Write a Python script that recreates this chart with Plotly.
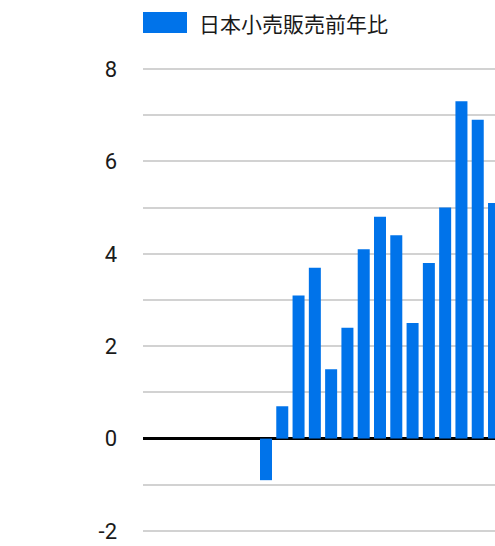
import plotly.graph_objects as go

series_name = "日本小売販売前年比"
categories = [str(i) for i in range(1, 16)]
values = [-0.9, 0.7, 3.1, 3.7, 1.5, 2.4, 4.1, 4.8, 4.4, 2.5, 3.8, 5.0, 7.3, 6.9, 5.1]
y_ticks = [-2, 0, 2, 4, 6, 8]
y_tick_labels = ["-2", "0", "2", "4", "6", "8"]

BAR_COLOR = "#0073ea"
W, H = 495, 546
ML, MR, MT, MB = 143, 0, 67, 13
pw = W - ML - MR
ph = H - MT - MB
pad_units = 2 * 10 / 462

fig = go.Figure()
fig.add_trace(go.Bar(x=categories, y=values, name=series_name,
                     marker=dict(color=BAR_COLOR, line=dict(width=0)),
                     showlegend=False, hoverinfo="skip"))

def py(pix):
    return 1 + (MT - pix) / ph

def px(pix):
    return (pix - ML) / pw

fig.add_shape(type="rect", xref="paper", yref="paper",
              x0=px(143), x1=px(187), y0=py(33), y1=py(12),
              fillcolor=BAR_COLOR, line=dict(width=0))
fig.add_annotation(xref="paper", yref="paper", x=px(197), y=py(22.5),
                   text=series_name, showarrow=False, xanchor="left", yanchor="middle",
                   font=dict(family="Noto Sans CJK JP", size=21, color="#1a1a1a"))

fig.update_layout(
    width=W, height=H,
    margin=dict(l=ML, r=MR, t=MT, b=MB, pad=0),
    paper_bgcolor="white", plot_bgcolor="white",
    bargap=0.263,
    xaxis=dict(type="category", range=[-7.55, 14.06], showticklabels=False,
               showgrid=False, zeroline=False, showline=False, ticks=""),
    yaxis=dict(range=[-2 - pad_units, 8 + pad_units], tickvals=y_ticks, ticktext=y_tick_labels,
               showgrid=True, gridcolor="#d2d2d2", gridwidth=2,
               zeroline=True, zerolinecolor="#000000", zerolinewidth=2.5,
               minor=dict(dtick=1, tick0=1, showgrid=True, gridcolor="#d2d2d2", gridwidth=2),
               ticks="", ticklabelstandoff=25,
               tickfont=dict(family="Roboto", size=22, color="#1a1a1a"),
               showline=False),
)

fig.write_html("out.html", config={"displayModeBar": False},
               post_script="document.body.style.margin='0';document.body.style.overflow='hidden';")
